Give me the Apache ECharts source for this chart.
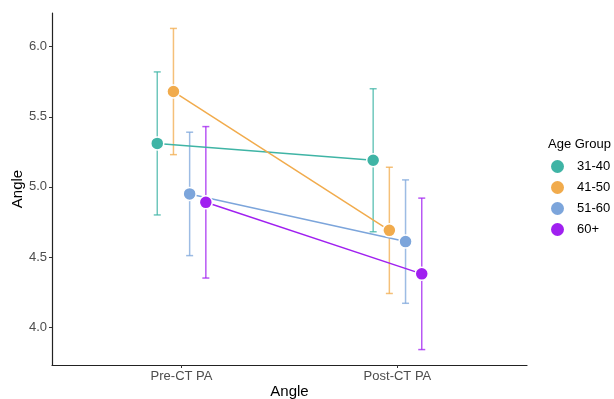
<!DOCTYPE html>
<html>
<head>
<meta charset="utf-8">
<script src="https://cdn.jsdelivr.net/npm/echarts@6/dist/echarts.min.js"></script>
<style>
  html, body { margin: 0; padding: 0; background: #fff; }
  #chart { width: 614px; height: 399px; }
</style>
</head>
<body>
<div id="chart"></div>
<script>
// values
const categories = ['Pre-CT PA', 'Post-CT PA'];
const groups = ['31-40', '41-50', '51-60', '60+'];
const meanPre = [5.31, 5.68, 4.95, 4.89];
const meanPost = [5.19, 4.69, 4.61, 4.38];
const errPre = [0.51, 0.45, 0.44, 0.54];
const errPost = [0.51, 0.45, 0.44, 0.54];
const yTicks = [4.0, 4.5, 5.0, 5.5, 6.0];

const colors = ['#3FB4A5', '#F1AB4C', '#7CA5DB', '#A020F0'];
const dodge = 0.3;

function offsetOf(i) {
    return -dodge / 2 + dodge / groups.length * (i + 0.5);
}

let chart = echarts.init(document.getElementById('chart'));
const lineSeries = [];
const barSeries = [];

groups.forEach(function (g, i) {
    const off = offsetOf(i);
    const means = [meanPre[i], meanPost[i]];
    const errs = [errPre[i], errPost[i]];

    lineSeries.push({
        type: 'line',
        name: g,
        data: means.map(function (m, k) { return [k + 1 + off, m]; }),
        symbol: 'circle',
        symbolSize: 13,
        showSymbol: true,
        color: colors[i],
        lineStyle: { color: colors[i], width: 1.5 },
        itemStyle: { color: colors[i], borderColor: '#fff', borderWidth: 1.5 },
        z: 2
    });

    // error bars, drawn under lines and points
    barSeries.push({
        type: 'custom',
        name: g,
        color: colors[i],
        itemStyle: { color: colors[i] },
        data: means.map(function (m, k) {
            return [k + 1 + off, m - errs[k], m + errs[k]];
        }),
        renderItem: function (params, api) {
            const lo = api.coord([api.value(0), api.value(1)]);
            const hi = api.coord([api.value(0), api.value(2)]);
            const cap = 3.5;
            const style = { stroke: colors[i], lineWidth: 1.5, opacity: 0.75 };
            return {
                type: 'group',
                children: [
                    { type: 'line', shape: { x1: lo[0], y1: lo[1], x2: hi[0], y2: hi[1] }, style: style },
                    { type: 'line', shape: { x1: lo[0] - cap, y1: lo[1], x2: lo[0] + cap, y2: lo[1] }, style: style },
                    { type: 'line', shape: { x1: hi[0] - cap, y1: hi[1], x2: hi[0] + cap, y2: hi[1] }, style: style }
                ]
            };
        },
        z: 1,
        silent: true
    });
});

const option = {
    animation: false,
    textStyle: { fontFamily: 'Liberation Sans, Arial, sans-serif' },
    title: {
        text: 'Age Group',
        left: 543,
        top: 133,
        textStyle: { fontSize: 13, fontWeight: 'normal', color: '#000' }
    },
    legend: {
        data: groups,
        orient: 'vertical',
        left: 546,
        top: 155,
        icon: 'circle',
        itemWidth: 13,
        itemHeight: 13,
        itemGap: 8,
        textStyle: { fontSize: 13, color: '#000', padding: [0, 0, 0, 8] }
    },
    grid: { left: 52, right: 87, top: 13, bottom: 34, outerBoundsMode: 'none', containLabel: false },
    xAxis: {
        type: 'value',
        min: 0.4,
        max: 2.6,
        name: 'Angle',
        nameLocation: 'middle',
        nameGap: 19,
        nameMoveOverlap: false,
        nameTextStyle: { fontSize: 15, color: '#000' },
        splitLine: { show: false },
        axisLine: { show: true, onZero: false, lineStyle: { color: '#222', width: 1.2 } },
        axisTick: { show: true, customValues: [1, 2], length: 3, lineStyle: { color: '#333' } },
        axisLabel: {
            customValues: [1, 2],
            margin: 5,
            fontSize: 13,
            color: '#4D4D4D',
            formatter: function (v) { return categories[Math.round(v) - 1]; }
        }
    },
    yAxis: {
        type: 'value',
        min: 3.73,
        max: 6.24,
        name: 'Angle',
        nameLocation: 'middle',
        nameGap: 27,
        nameMoveOverlap: false,
        nameTextStyle: { fontSize: 15, color: '#000' },
        splitLine: { show: false },
        axisLine: { show: true, onZero: false, lineStyle: { color: '#222', width: 1.2 } },
        axisTick: { show: true, customValues: yTicks, length: 3, lineStyle: { color: '#333' } },
        axisLabel: {
            customValues: yTicks,
            margin: 5,
            fontSize: 13,
            color: '#4D4D4D',
            formatter: function (v) { return v.toFixed(1); }
        }
    },
    series: barSeries.concat(lineSeries)
};

chart.setOption(option);
</script>
</body>
</html>
